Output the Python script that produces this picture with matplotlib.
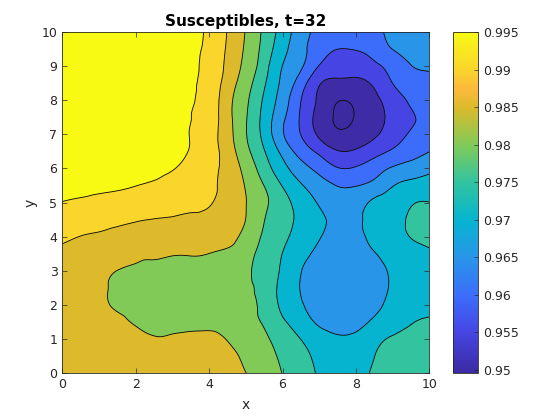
import numpy as np
import matplotlib
matplotlib.use("Agg")
import matplotlib.pyplot as plt
import matplotlib.tri as mtri
from matplotlib.colors import LinearSegmentedColormap, Normalize
from matplotlib.cm import ScalarMappable
from matplotlib.ticker import FormatStrFormatter

# ---------------- data ----------------
title_text = "Susceptibles, t=32"
x_label = "x"
y_label = "y"

x_vals = [0.0, 0.5, 1.0, 1.5, 2.0, 2.5, 3.0, 3.5, 4.0, 4.5, 5.0,
          5.5, 6.0, 6.5, 7.0, 7.5, 8.0, 8.5, 9.0, 9.5, 10.0]
# rows from top (y = 10) to bottom (y = 0)
y_vals = [10.0, 9.5, 9.0, 8.5, 8.0, 7.5, 7.0, 6.5, 6.0, 5.5, 5.0,
          4.5, 4.0, 3.5, 3.0, 2.5, 2.0, 1.5, 1.0, 0.5, 0.0]

S_rows = [
    [0.99900, 0.99900, 0.99900, 0.99900, 0.99900, 0.99885, 0.99785, 0.99635, 0.99410, 0.98980, 0.98475, 0.97895, 0.97290, 0.96735, 0.96350, 0.96190, 0.96200, 0.96350, 0.96635, 0.96710, 0.96775],
    [0.99900, 0.99900, 0.99900, 0.99900, 0.99900, 0.99873, 0.99773, 0.99608, 0.99383, 0.98940, 0.98430, 0.97825, 0.97165, 0.96660, 0.96220, 0.96005, 0.96025, 0.96190, 0.96510, 0.96575, 0.96660],
    [0.99900, 0.99900, 0.99900, 0.99900, 0.99900, 0.99861, 0.99761, 0.99581, 0.99356, 0.98890, 0.98360, 0.97710, 0.96995, 0.96570, 0.95980, 0.95725, 0.95710, 0.95900, 0.96190, 0.96490, 0.96560],
    [0.99900, 0.99900, 0.99900, 0.99900, 0.99900, 0.99849, 0.99749, 0.99554, 0.99329, 0.98790, 0.98220, 0.97565, 0.96890, 0.96250, 0.95550, 0.95390, 0.95400, 0.95585, 0.96005, 0.96225, 0.96375],
    [0.99900, 0.99900, 0.99900, 0.99900, 0.99900, 0.99839, 0.99739, 0.99532, 0.99307, 0.98680, 0.98095, 0.97425, 0.96760, 0.96010, 0.95400, 0.95025, 0.95100, 0.95375, 0.95750, 0.96070, 0.96250],
    [0.99900, 0.99900, 0.99900, 0.99900, 0.99900, 0.99827, 0.99727, 0.99505, 0.99280, 0.98675, 0.98040, 0.97335, 0.96610, 0.95940, 0.95300, 0.94955, 0.95025, 0.95300, 0.95650, 0.95950, 0.96100],
    [0.99900, 0.99900, 0.99900, 0.99900, 0.99900, 0.99815, 0.99703, 0.99478, 0.99200, 0.98705, 0.98030, 0.97345, 0.96550, 0.95990, 0.95400, 0.95075, 0.95175, 0.95425, 0.95745, 0.96050, 0.96175],
    [0.99900, 0.99897, 0.99875, 0.99857, 0.99829, 0.99795, 0.99689, 0.99464, 0.99200, 0.98775, 0.98145, 0.97525, 0.96855, 0.96300, 0.95880, 0.95525, 0.95560, 0.95800, 0.96065, 0.96285, 0.96490],
    [0.99819, 0.99797, 0.99775, 0.99757, 0.99729, 0.99658, 0.99536, 0.99311, 0.99150, 0.98820, 0.98345, 0.97735, 0.97175, 0.96695, 0.96345, 0.96025, 0.96050, 0.96275, 0.96550, 0.96710, 0.96885],
    [0.99712, 0.99662, 0.99613, 0.99572, 0.99509, 0.99433, 0.99316, 0.99200, 0.99110, 0.98815, 0.98470, 0.97990, 0.97475, 0.97045, 0.96720, 0.96485, 0.96485, 0.96650, 0.96975, 0.97150, 0.97215],
    [0.99487, 0.99437, 0.99388, 0.99347, 0.99284, 0.99208, 0.99210, 0.99100, 0.99030, 0.98800, 0.98510, 0.98105, 0.97675, 0.97295, 0.96950, 0.96675, 0.96750, 0.97100, 0.97250, 0.97460, 0.97505],
    [0.99290, 0.99250, 0.99195, 0.99120, 0.99035, 0.98990, 0.98950, 0.98915, 0.98880, 0.98690, 0.98495, 0.98015, 0.97680, 0.97375, 0.97100, 0.96875, 0.96925, 0.97155, 0.97350, 0.97550, 0.97625],
    [0.99085, 0.98990, 0.98925, 0.98850, 0.98800, 0.98770, 0.98735, 0.98705, 0.98670, 0.98600, 0.98370, 0.97915, 0.97595, 0.97305, 0.97030, 0.96810, 0.96875, 0.97125, 0.97320, 0.97515, 0.97625],
    [0.98900, 0.98825, 0.98750, 0.98700, 0.98575, 0.98550, 0.98520, 0.98520, 0.984975, 0.98440, 0.98225, 0.97775, 0.97495, 0.97165, 0.96900, 0.96785, 0.96825, 0.96980, 0.97150, 0.97300, 0.97425],
    [0.98775, 0.98700, 0.98625, 0.98495, 0.98460, 0.98440, 0.98405, 0.98375, 0.98340, 0.98290, 0.98100, 0.97765, 0.97435, 0.97015, 0.96800, 0.96725, 0.96750, 0.96875, 0.97050, 0.97175, 0.97300],
    [0.98700, 0.98635, 0.98550, 0.98453, 0.98400, 0.98360, 0.98300, 0.98240, 0.98180, 0.98135, 0.98040, 0.97860, 0.97330, 0.96985, 0.96775, 0.96700, 0.96710, 0.96825, 0.97050, 0.97175, 0.97275],
    [0.98690, 0.98625, 0.98550, 0.98470, 0.98410, 0.98343, 0.98305, 0.98275, 0.98245, 0.98170, 0.98060, 0.97895, 0.97375, 0.97040, 0.96800, 0.96710, 0.96750, 0.96900, 0.97100, 0.97250, 0.97400],
    [0.98710, 0.98650, 0.98590, 0.98565, 0.98470, 0.98425, 0.98410, 0.98410, 0.98405, 0.98330, 0.98150, 0.97950, 0.97580, 0.97240, 0.96925, 0.96810, 0.96850, 0.97075, 0.97250, 0.97465, 0.97550],
    [0.98750, 0.98700, 0.98650, 0.98650, 0.98600, 0.98520, 0.98535, 0.98565, 0.98575, 0.98485, 0.98300, 0.98080, 0.97790, 0.97495, 0.97225, 0.97075, 0.97125, 0.97350, 0.97560, 0.97650, 0.97725],
    [0.98780, 0.98735, 0.98700, 0.98690, 0.98650, 0.98625, 0.98610, 0.98625, 0.98610, 0.98575, 0.98425, 0.98175, 0.97920, 0.97650, 0.97390, 0.97250, 0.97300, 0.97495, 0.97650, 0.97750, 0.97800],
    [0.98800, 0.98760, 0.98725, 0.98710, 0.98680, 0.98660, 0.98650, 0.98650, 0.98625, 0.98600, 0.98505, 0.98250, 0.97990, 0.97725, 0.97450, 0.97310, 0.97350, 0.97560, 0.97700, 0.97800, 0.97850],
]

contour_levels = [0.950, 0.955, 0.960, 0.965, 0.970, 0.975, 0.980, 0.985, 0.990, 0.995]
x_ticks = [0, 2, 4, 6, 8, 10]
y_ticks = [0, 1, 2, 3, 4, 5, 6, 7, 8, 9, 10]
color_min = 0.94953
color_max = 0.99508

# ---------------- style ----------------
anchor_pos = [0.0, 0.1201, 0.2299, 0.3396, 0.4494, 0.5592, 0.6690, 0.7788, 0.835, 0.8885, 1.0]
anchor_rgb = [(60, 42, 162), (70, 70, 228), (60, 110, 250), (40, 150, 232), (6, 180, 208),
              (50, 196, 160), (128, 202, 88), (220, 186, 42), (252, 186, 60), (250, 212, 44),
              (248, 250, 20)]
cmap = LinearSegmentedColormap.from_list(
    "parula_like", [(p, tuple(c / 255 for c in rgb)) for p, rgb in zip(anchor_pos, anchor_rgb)])
norm = Normalize(vmin=color_min, vmax=color_max)
ink = "#262626"

X, Y = np.meshgrid(np.array(x_vals), np.array(y_vals)[::-1])
Z = np.array(S_rows)[::-1]

# smooth contouring of the gridded field with matplotlib's own triangulation refiner
tri = mtri.Triangulation(X.ravel(), Y.ravel())
refiner = mtri.UniformTriRefiner(tri)
interp = mtri.CubicTriInterpolator(tri, Z.ravel(), kind="min_E")
tri_f, z_f = refiner.refine_field(Z.ravel(), triinterpolator=interp, subdiv=3)

fill_bounds = [min(color_min, z_f.min()) - 0.001] + contour_levels + [max(z_f.max(), Z.max()) + 0.001]
fill_colors = [cmap(norm(max(b, color_min))) for b in fill_bounds[:-1]]

fig = plt.figure(figsize=(5.5, 4.2), dpi=100)
ax = fig.add_axes([0.1133, 0.1112, 0.6673, 0.8133])
ax.tricontourf(tri_f, z_f, levels=fill_bounds, colors=fill_colors, antialiased=True)
ax.tricontour(tri_f, z_f, levels=contour_levels, colors="k", linewidths=0.6)

ax.set_xlim(0, 10)
ax.set_ylim(0, 10)
ax.set_xticks(x_ticks)
ax.set_yticks(y_ticks)
ax.tick_params(direction="in", length=3.5, width=0.5, top=True, right=True,
               labelsize=9, colors=ink)
for s in ax.spines.values():
    s.set_linewidth(0.6)
    s.set_color(ink)
ax.set_xlabel(x_label, fontsize=10, color=ink, labelpad=5)
ax.set_ylabel(y_label, fontsize=10, color=ink, labelpad=3)
ax.set_title(title_text, fontsize=11, fontweight="bold", color="black", pad=4)

cax = fig.add_axes([0.8242, 0.1112, 0.04545, 0.8133])
sm = ScalarMappable(norm=norm, cmap=cmap)
cb = fig.colorbar(sm, cax=cax, ticks=contour_levels)
cb.ax.yaxis.set_major_formatter(FormatStrFormatter("%g"))
cb.ax.tick_params(direction="in", length=3, width=0.5, labelsize=9, colors=ink)
cb.outline.set_linewidth(0.6)
cb.outline.set_edgecolor(ink)

fig.savefig("out.png", dpi=100)
